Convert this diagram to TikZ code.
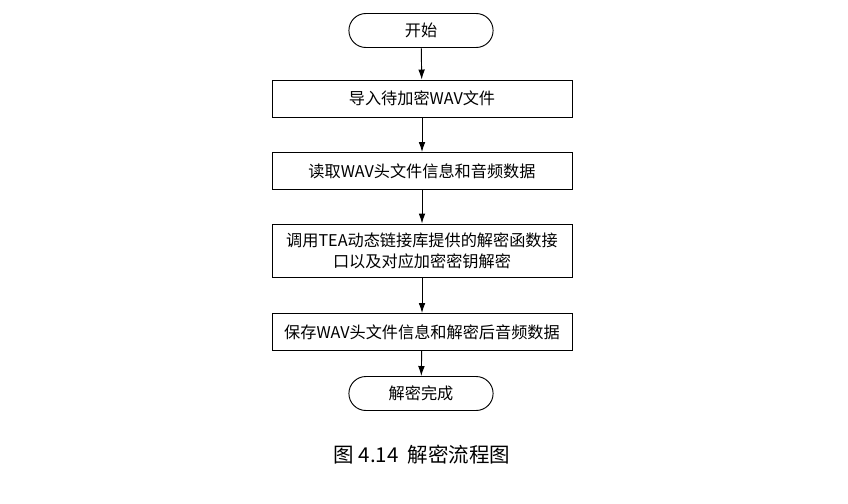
\documentclass[tikz,border=0pt]{standalone}
\usepackage{fontspec}
\newfontfamily\cjk{Noto Sans CJK SC}
\usetikzlibrary{arrows.meta,shapes.misc}
\tikzset{
  stepbox/.style={draw, thick, minimum width=300*0.03cm, minimum height=37*0.03cm, align=center, font=\cjk\fontsize{13.8}{18}\selectfont},
  termbox/.style={draw, thick, rounded rectangle, minimum width=152*0.03cm, minimum height=34*0.03cm, font=\cjk\fontsize{13.8}{18}\selectfont},
  flow/.style={thick, -{Latex[length=3mm,width=2mm]}}
}
\begin{document}
\begin{tikzpicture}[x=0.03cm,y=-0.03cm]
            % Rahmen
            \useasboundingbox (0,0) rectangle (848,503);

            % Knoten
            \node[termbox] (start) at (421,30.5) {开始};
            \node[stepbox] (load) at (422,98.5) {导入待加密WAV文件};
            \node[stepbox] (read) at (422,171) {读取WAV头文件信息和音频数据};
            \node[stepbox, minimum height=53*0.03cm] (call) at (422,250.5) {调用TEA动态链接库提供的解密函数接\\口以及对应加密密钥解密};
            \node[stepbox] (save) at (422,332) {保存WAV头文件信息和解密后音频数据};
            \node[termbox] (done) at (421,393.5) {解密完成};

            % Pfeile
            \draw[flow] (start) -- (load);
            \draw[flow] (load) -- (read);
            \draw[flow] (read) -- (call);
            \draw[flow] (call) -- (save);
            \draw[flow] (save) -- (done);

            % Beschriftung
            \node[font=\cjk\fontsize{17.5}{22}\selectfont] (caption) at (422,455) {图 4.14\ \ 解密流程图};
\end{tikzpicture}
\end{document}
